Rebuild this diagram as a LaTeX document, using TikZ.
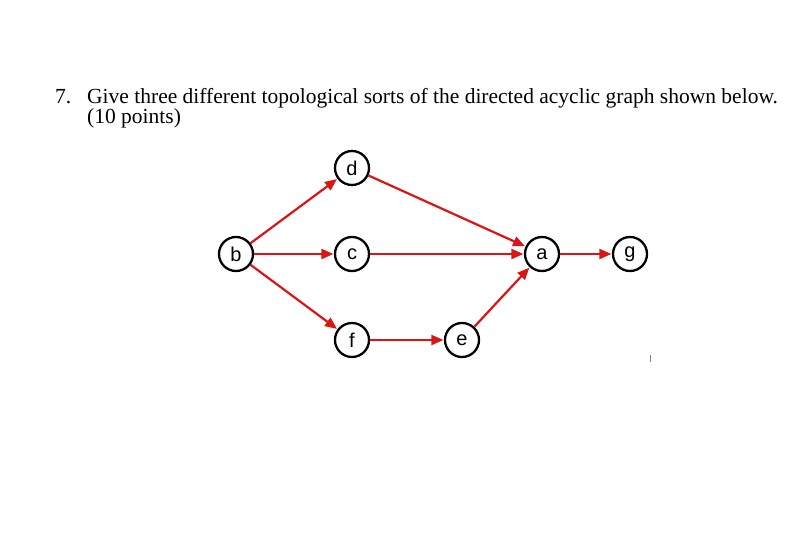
\documentclass[tikz,border=0pt]{standalone}
\usepackage{fontspec}
\setmainfont{Liberation Serif}
\newfontfamily\nodefont{Liberation Sans}
\usetikzlibrary{arrows.meta}
\begin{document}
\begin{tikzpicture}[x=1pt,y=-1pt,
  vert/.style={circle,draw=black,line width=2.3pt,minimum size=34pt,inner sep=0pt,font=\nodefont\fontsize{20}{20}\selectfont},
  edge/.style={draw={rgb,255:red,220;green,20;blue,20},line width=2.2pt,-{Triangle[length=12pt,width=10pt]},shorten >=0.5pt},
  ttl/.style={anchor=base west,inner sep=0pt,font=\fontsize{21.5}{24}\selectfont}]
\useasboundingbox (0,0) rectangle (803,541);
\node[ttl] (num) at (55,103.5) {7.};
\node[ttl] (title) at (87,103.5) {Give three different topological sorts of the directed acyclic graph shown below.};
\node[ttl] (pts) at (87,123.5) {(10 points)};
\node[vert] (b) at (236,254) {b};
\node[vert] (d) at (352,168) {d};
\node[vert] (c) at (352,254) {c};
\node[vert] (a) at (542,254) {a};
\node[vert] (g) at (630,254) {g};
\node[vert] (f) at (352,340) {f};
\node[vert] (e) at (462,340) {e};
\draw[edge] (b) -- (d);
\draw[edge] (b) -- (c);
\draw[edge] (b) -- (f);
\draw[edge] (d) -- (a);
\draw[edge] (c) -- (a);
\draw[edge] (f) -- (e);
\draw[edge] (e) -- (a);
\draw[edge] (a) -- (g);
\coordinate (t1) at (650,355);
\coordinate (t2) at (650,362);
\draw[gray,line width=1pt] (t1) -- (t2);
\end{tikzpicture}
\end{document}
